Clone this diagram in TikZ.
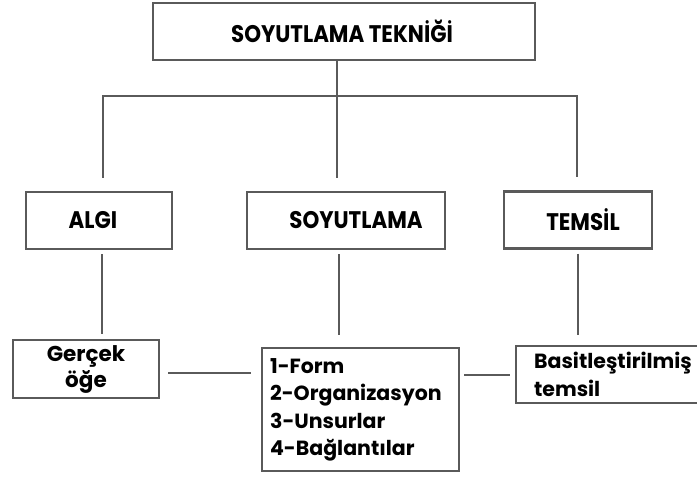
\documentclass[tikz,border=0pt]{standalone}
\usepackage{fontspec}
\setmainfont{Poppins}
\newfontfamily\headfont{Poppins}[FakeStretch=0.89]
\usepackage{tikz}
\usetikzlibrary{positioning}

\definecolor{linegray}{RGB}{90,90,90}
\tikzset{
  headbox/.style={draw=linegray, line width=2.2pt, inner sep=0pt,
    font=\headfont\bfseries\fontsize{24}{28}\selectfont},
  itembox/.style={draw=linegray, line width=2.2pt, inner ysep=0pt,
    font=\bfseries\fontsize{20.5}{27.5}\selectfont},
  link/.style={draw=linegray, line width=2pt},
}

\begin{document}
\begin{tikzpicture}[x=1pt,y=-1pt]
\useasboundingbox (0,0) rectangle (697,477);
% top
\node[headbox, minimum width=382pt, minimum height=57pt] (teknik) at (344,31.5) {\hspace{-4pt}SOYUTLAMA TEKNİĞİ};
% middle row
\node[headbox, minimum width=146pt, minimum height=57pt] (algi) at (99,220.5) {\hspace{-12pt}ALGI};
\node[headbox, minimum width=198pt, minimum height=57pt] (soyut) at (346,220.5) {\hspace{20pt}SOYUTLAMA};
\node[headbox, minimum width=148pt, minimum height=57pt] (temsil) at (578,220) {\hspace{10pt}TEMSİL};
% bottom row
\node[itembox, font=\bfseries\fontsize{21.5}{26}\selectfont, inner xsep=0pt, minimum width=146pt, minimum height=58pt, align=center] (gercek) at (86,369) {Gerçek\\öğe};
\node[itembox, anchor=north west, inner xsep=8pt, text width=181pt, minimum height=123pt, align=left] (form) at (261,347)
  {1-Form\\2-Organizasyon\\3-Unsurlar\\4-Bağlantılar};
\node[itembox, anchor=north west, inner xsep=18pt, text width=164pt, minimum height=57pt, align=left] (basit) at (515,345)
  {Basitleştirilmiş\\temsil};

% tree
\coordinate (hub) at (337,96);
\coordinate (dropA) at (103,96);
\coordinate (dropT) at (577,96);
\draw[link] (teknik.south -| hub) -- (hub);
\draw[link, shorten <=13pt, shorten >=13pt] (dropA |- algi.north) -- (dropA) -- (dropT) -- (dropT |- temsil.north);
\draw[link, shorten >=13pt] (hub) -- (hub |- soyut.north);
\draw[link, shorten <=4pt, shorten >=5pt] ([xshift=3pt]algi.south) -- ([xshift=3pt]algi.south |- gercek.north);
\draw[link, shorten <=4pt, shorten >=12pt] ([xshift=-7pt]soyut.south) -- ([xshift=-7pt]soyut.south |- form.north);
\draw[link, shorten <=4pt, shorten >=10pt] (temsil.south) -- (temsil.south |- basit.north);
\draw[link, shorten <=8pt, shorten >=10pt] (gercek.east |- 0,373) -- (form.west |- 0,373);
\draw[link, shorten <=4pt, shorten >=5pt] (form.east |- 0,375) -- (basit.west |- 0,375);
\end{tikzpicture}
\end{document}
